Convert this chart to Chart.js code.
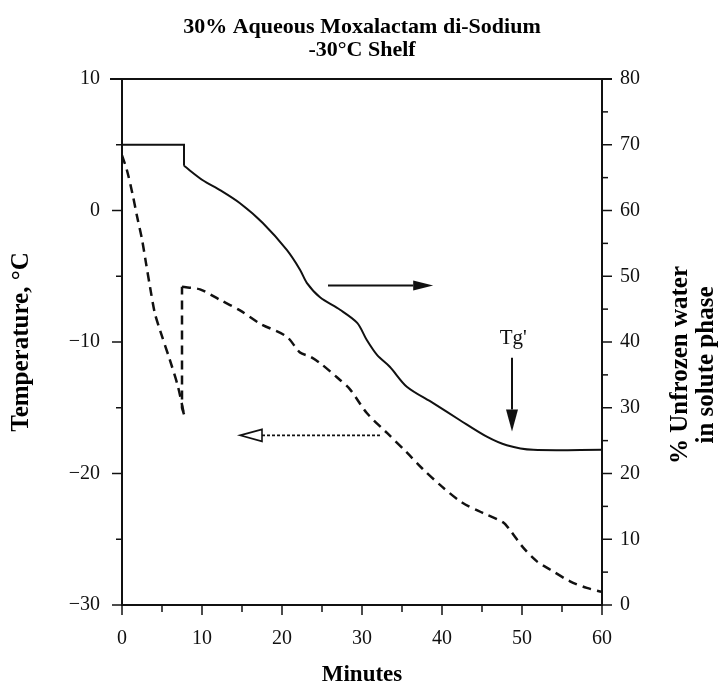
<!DOCTYPE html>
<html>
<head>
<meta charset="utf-8">
<title>30% Aqueous Moxalactam di-Sodium</title>
<script src="https://cdn.jsdelivr.net/npm/chart.js@4.4.0/dist/chart.umd.min.js"></script>
<style>
  html, body { margin: 0; padding: 0; background: #fff; }
  #wrap { width: 721px; height: 686px; }
</style>
</head>
<body>
<div id="wrap"><canvas id="grafico" width="721" height="686"></canvas></div>
<script>
// product temperature (dashed curve, left axis)
const tempoTemp = [0, 0.6, 1.3, 1.9, 2.5, 3.0, 3.5, 4.1, 4.75, 6.0, 7.0, 7.75, 7.5, 7.5,
    9.75, 12.25, 14.75, 17.25, 20.6, 22.25, 23.5, 24.75, 26.9, 28.5, 30.6, 33.1, 35.6,
    37.5, 40, 42.5, 45.1, 47.6, 48.5, 50.1, 51.9, 53.5, 56, 58.1, 60];
const temperatura = [4.2, 3.1, 1.3, -0.5, -2.2, -4.0, -5.8, -7.8, -9.1, -11.4, -13.4, -15.5, -15.0, -5.8,
    -6.0, -6.8, -7.6, -8.6, -9.6, -10.8, -11.1, -11.6, -12.7, -13.6, -15.4, -16.9, -18.4,
    -19.6, -21.0, -22.2, -23.0, -23.7, -24.3, -25.6, -26.7, -27.3, -28.2, -28.7, -29.0];

// % unfrozen water in solute phase (solid curve, right axis)
const tempoAgua = [0, 7.75, 7.75, 10.1, 12.25, 14.75, 17.6, 20.6, 22.25, 23.1, 24.75, 27.25,
    29.4, 30.6, 31.9, 33.5, 35.6, 38.9, 42.25, 45.6, 48.1, 51.4, 60];
const aguaNaoCongelada = [70, 70, 66.8, 64.6, 63.1, 61.1, 58.1, 54.0, 51.0, 49.0, 46.8, 44.9,
    42.9, 40.3, 38.0, 36.2, 33.2, 30.7, 28.1, 25.6, 24.3, 23.6, 23.6];

const titulo = ["30% Aqueous Moxalactam di-Sodium", "-30\u00B0C Shelf"];
const tituloX = "Minutes";
const tituloY = "Temperature, \u00B0C";
const tituloY2 = ["% Unfrozen water", "in solute phase"];

const SERIF = '"Liberation Serif", "Times New Roman", serif';
const COR = '#111';

Chart.defaults.font.family = SERIF;
Chart.defaults.color = COR;

function pontos(xs, ys, de, ate) {
    return xs.slice(de, ate + 1).map((t, i) => ({ x: t, y: ys[de + i] }));
}

function seta(ctx, x1, y1, x2, y2, comp, meia, cheia) {
    const ang = Math.atan2(y2 - y1, x2 - x1);
    const bx = x2 - comp * Math.cos(ang), by = y2 - comp * Math.sin(ang);
    const px = -Math.sin(ang) * meia, py = Math.cos(ang) * meia;
    ctx.beginPath();
    ctx.moveTo(x1, y1);
    ctx.lineTo(bx, by);
    ctx.stroke();
    ctx.setLineDash([]);
    ctx.beginPath();
    ctx.moveTo(x2, y2);
    ctx.lineTo(bx + px, by + py);
    ctx.lineTo(bx - px, by - py);
    ctx.closePath();
    if (cheia) ctx.fill(); else { ctx.fillStyle = '#fff'; ctx.fill(); ctx.fillStyle = COR; ctx.stroke(); }
}

const extras = {
    id: 'extras',
    afterDraw(chart) {
        const { ctx, chartArea: a, scales: { x, y, y2 } } = chart;
        ctx.save();
        ctx.strokeStyle = COR;
        ctx.fillStyle = COR;
        ctx.lineWidth = 2;

        // top frame line
        ctx.beginPath();
        ctx.moveTo(a.left - 12, a.top);
        ctx.lineTo(a.right + 10, a.top);
        ctx.stroke();

        // tick marks (outside)
        ctx.lineWidth = 1.5;
        y.ticks.forEach(t => {
            const p = y.getPixelForValue(t.value);
            const l = t.value % 10 === 0 ? 10 : 6;
            ctx.beginPath(); ctx.moveTo(a.left - l, p); ctx.lineTo(a.left, p); ctx.stroke();
        });
        y2.ticks.forEach(t => {
            const p = y2.getPixelForValue(t.value);
            const l = t.value % 10 === 0 ? 10 : 6;
            ctx.beginPath(); ctx.moveTo(a.right, p); ctx.lineTo(a.right + l, p); ctx.stroke();
        });
        x.ticks.forEach(t => {
            const p = x.getPixelForValue(t.value);
            const l = t.value % 10 === 0 ? 10 : 7;
            ctx.beginPath(); ctx.moveTo(p, a.bottom); ctx.lineTo(p, a.bottom + l); ctx.stroke();
        });

        // arrow -> (unfrozen water curve uses right axis)
        ctx.lineWidth = 2;
        seta(ctx, x.getPixelForValue(25.75), y.getPixelForValue(-5.7),
            x.getPixelForValue(38.9), y.getPixelForValue(-5.7), 20, 5, true);

        // arrow <- (temperature curve uses left axis), dotted shaft, open head
        ctx.lineWidth = 1.6;
        ctx.setLineDash([3, 2]);
        seta(ctx, x.getPixelForValue(32.25), y.getPixelForValue(-17.1),
            x.getPixelForValue(14.75), y.getPixelForValue(-17.1), 22, 6, false);

        // Tg'
        ctx.lineWidth = 2;
        seta(ctx, x.getPixelForValue(48.75), y.getPixelForValue(-11.2),
            x.getPixelForValue(48.75), y.getPixelForValue(-16.8), 22, 6, true);
        ctx.font = '21px ' + SERIF;
        ctx.textAlign = 'center';
        ctx.textBaseline = 'middle';
        ctx.fillText("Tg'", x.getPixelForValue(48.9), y.getPixelForValue(-9.7));

        // titles
        ctx.font = 'bold 22px ' + SERIF;
        ctx.fillStyle = '#000';
        const cx = (a.left + a.right) / 2;
        ctx.fillText(titulo[0], cx, 27);
        ctx.fillText(titulo[1], cx, 50);
        ctx.font = 'bold 23px ' + SERIF;
        ctx.fillText(tituloX, cx, 675);

        ctx.font = 'bold 25px ' + SERIF;
        ctx.save();
        ctx.translate(22, (a.top + a.bottom) / 2);
        ctx.rotate(-Math.PI / 2);
        ctx.fillText(tituloY, 0, 0);
        ctx.restore();

        ctx.save();
        ctx.translate(681, 365);
        ctx.rotate(-Math.PI / 2);
        ctx.fillText(tituloY2[0], 0, 0);
        ctx.fillText(tituloY2[1], 0, 26);
        ctx.restore();

        ctx.restore();
    }
};

const fonteTicks = { size: 20, family: SERIF };

const tracejada = { yAxisID: 'y', showLine: true, borderColor: COR, borderWidth: 2.5, borderDash: [9, 6], pointRadius: 0 };
const continua = { yAxisID: 'y2', showLine: true, borderColor: COR, borderWidth: 2, pointRadius: 0 };

new Chart(document.getElementById('grafico'), {
    type: 'scatter',
    data: {
        datasets: [
            // temperature: left branch, jump, right branch
            { ...tracejada, label: 'Temperature', data: pontos(tempoTemp, temperatura, 0, 11), tension: 0.3 },
            { ...tracejada, label: 'Temperature', data: pontos(tempoTemp, temperatura, 11, 13), tension: 0 },
            { ...tracejada, label: 'Temperature', data: pontos(tempoTemp, temperatura, 13, tempoTemp.length - 1), tension: 0.3 },
            // unfrozen water: plateau + step, then decline
            { ...continua, label: '% Unfrozen water', data: pontos(tempoAgua, aguaNaoCongelada, 0, 2), tension: 0 },
            { ...continua, label: '% Unfrozen water', data: pontos(tempoAgua, aguaNaoCongelada, 2, tempoAgua.length - 1), tension: 0.3 }
        ]
    },
    options: {
        responsive: false,
        animation: false,
        layout: { padding: { top: 79, left: 0, right: 0, bottom: 0 } },
        plugins: { legend: { display: false }, tooltip: { enabled: false } },
        scales: {
            x: {
                type: 'linear', min: 0, max: 60,
                grid: { display: false, drawTicks: false },
                border: { display: true, color: COR, width: 2 },
                ticks: {
                    stepSize: 5, padding: 22, font: fonteTicks, color: COR, maxRotation: 0,
                    callback: v => (v % 10 === 0 ? v : '')
                },
                afterFit: s => { s.height = 81; }
            },
            y: {
                position: 'left', min: -30, max: 10,
                grid: { display: false, drawTicks: false },
                border: { display: true, color: COR, width: 2 },
                ticks: {
                    stepSize: 5, padding: 22, font: fonteTicks, color: COR,
                    callback: v => (v % 10 === 0 ? (v < 0 ? '\u2212' + Math.abs(v) : v) : '')
                },
                afterFit: s => { s.width = 122; }
            },
            y2: {
                position: 'right', min: 0, max: 80,
                grid: { display: false, drawTicks: false },
                border: { display: true, color: COR, width: 2 },
                ticks: {
                    stepSize: 5, padding: 18, font: fonteTicks, color: COR,
                    callback: v => (v % 10 === 0 ? v : '')
                },
                afterFit: s => { s.width = 119; }
            }
        }
    },
    plugins: [extras]
});
</script>
</body>
</html>
